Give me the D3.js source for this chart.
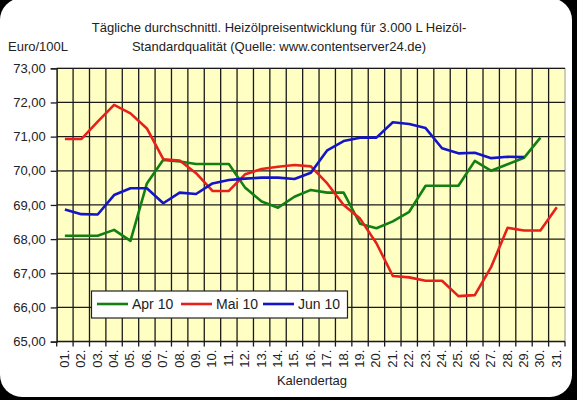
<!DOCTYPE html>
<html>
<head>
<meta charset="utf-8">
<script src="https://cdn.jsdelivr.net/npm/d3@7"></script>
<style>
  body { margin: 0; background: #000; }
  svg { display: block; font-family: "Liberation Sans", Arial, sans-serif; }
</style>
</head>
<body>
<svg id="chart" width="577" height="400"></svg>
<script>
const days = d3.range(1, 32).map(d => (d < 10 ? "0" + d : "" + d) + ".");
const yTicks = [65, 66, 67, 68, 69, 70, 71, 72, 73];

const apr10 = [68.1, 68.1, 68.1, 68.27, 67.95, 69.63, 70.32, 70.27, 70.2, 70.2,
  70.2, 69.5, 69.1, 68.92, 69.24, 69.44, 69.36, 69.36, 68.45, 68.32,
  68.52, 68.8, 69.56, 69.56, 69.56, 70.29, 70.0, 70.19, 70.38, 70.97];
const mai10 = [70.93, 70.93, 71.44, 71.93, 71.68, 71.24, 70.34, 70.3, 69.93, 69.41,
  69.41, 69.9, 70.05, 70.12, 70.17, 70.13, 69.63, 69.0, 68.6, 67.88,
  66.92, 66.88, 66.78, 66.78, 66.33, 66.36, 67.19, 68.33, 68.25, 68.25, 68.93];
const jun10 = [68.87, 68.73, 68.72, 69.29, 69.49, 69.49, 69.05, 69.36, 69.32, 69.63,
  69.73, 69.77, 69.8, 69.8, 69.76, 69.94, 70.6, 70.87, 70.97, 70.97,
  71.42, 71.37, 71.25, 70.66, 70.51, 70.53, 70.37, 70.41, 70.4];

const seriesNames = ["Apr 10", "Mai 10", "Jun 10"];
const seriesColors = ["#118011", "#e8201a", "#1515c8"];
const series = [apr10, mai10, jun10];

const svg = d3.select("#chart");

// card with rounded corners on black
svg.append("rect").attr("width", 577).attr("height", 400).attr("fill", "#000");
svg.append("rect")
  .attr("x", 0).attr("y", -2).attr("width", 572).attr("height", 399)
  .attr("rx", 22).attr("fill", "#fff");

const plotLeft = 56.7, plotRight = 565, plotTop = 68.3, plotBottom = 341.6;

const x = d3.scaleBand().domain(days).range([plotLeft, plotRight]).padding(0);
const y = d3.scaleLinear().domain([65, 73]).range([plotBottom, plotTop]);

// plot area
svg.append("rect")
  .attr("x", plotLeft).attr("y", plotTop)
  .attr("width", plotRight - plotLeft).attr("height", plotBottom - plotTop)
  .attr("fill", "#ffffc4")
  .attr("stroke", "#9a9a9a").attr("stroke-width", 1);

// vertical grid at category boundaries
svg.append("g")
  .selectAll("line")
  .data(days.slice(1))
  .enter()
  .append("line")
  .attr("x1", d => x(d)).attr("x2", d => x(d))
  .attr("y1", plotTop).attr("y2", plotBottom)
  .attr("stroke", "#1a1a1a").attr("stroke-width", 1.3);

// horizontal grid
svg.append("g")
  .selectAll("line")
  .data(yTicks.slice(1))
  .enter()
  .append("line")
  .attr("x1", plotLeft).attr("x2", plotRight)
  .attr("y1", d => y(d)).attr("y2", d => y(d))
  .attr("stroke", "#1a1a1a").attr("stroke-width", 1.3);

// y axis
const yAxis = svg.append("g")
  .attr("transform", `translate(${plotLeft},0)`)
  .call(d3.axisLeft(y).tickValues(yTicks).tickSize(6).tickPadding(5)
    .tickFormat(d => d3.format(".2f")(d).replace(".", ",")));
yAxis.select(".domain").attr("stroke", "#1a1a1a").attr("stroke-width", 1.3);
yAxis.selectAll(".tick line").attr("stroke", "#1a1a1a").attr("stroke-width", 1.3);
yAxis.selectAll("text").attr("font-size", 13).attr("fill", "#222")
  .style("font-family", "Liberation Sans, Arial, sans-serif");

// x axis: ticks between categories
const xAxisG = svg.append("g");
xAxisG.append("line")
  .attr("x1", plotLeft).attr("x2", plotRight).attr("y1", plotBottom).attr("y2", plotBottom)
  .attr("stroke", "#1a1a1a").attr("stroke-width", 1.5);
xAxisG.selectAll(".tk")
  .data(days.concat(["end"]))
  .enter()
  .append("line")
  .attr("x1", d => d === "end" ? plotRight : x(d))
  .attr("x2", d => d === "end" ? plotRight : x(d))
  .attr("y1", plotBottom).attr("y2", plotBottom + 5)
  .attr("stroke", "#1a1a1a").attr("stroke-width", 1.3);
xAxisG.selectAll("text")
  .data(days)
  .enter()
  .append("text")
  .attr("transform", d => `translate(${x(d) + x.bandwidth() / 2 + 4},${plotBottom + 8}) rotate(-90)`)
  .attr("text-anchor", "end")
  .attr("font-size", 13)
  .attr("fill", "#222")
  .text(d => d);

// lines
const line = d3.line()
  .x((d, i) => x(days[i]) + x.bandwidth() / 2)
  .y(d => y(d));

svg.append("g")
  .selectAll("path")
  .data(series)
  .enter()
  .append("path")
  .attr("d", d => line(d))
  .attr("fill", "none")
  .attr("stroke", (d, i) => seriesColors[i])
  .attr("stroke-width", 2.6)
  .attr("stroke-linejoin", "round");

// legend
const legend = svg.append("g");
legend.append("rect")
  .attr("x", 91.5).attr("y", 291).attr("width", 256).attr("height", 27)
  .attr("fill", "#fff").attr("stroke", "#222").attr("stroke-width", 1.2);
const legendX = [97, 181, 263];
seriesNames.forEach((name, i) => {
  legend.append("line")
    .attr("x1", legendX[i]).attr("x2", legendX[i] + 31)
    .attr("y1", 304).attr("y2", 304)
    .attr("stroke", seriesColors[i]).attr("stroke-width", 2.6);
  legend.append("text")
    .attr("x", legendX[i] + 35).attr("y", 309)
    .attr("font-size", 14).attr("fill", "#222")
    .text(name);
});

// titles
const title = svg.append("text")
  .attr("x", 279).attr("text-anchor", "middle")
  .attr("font-size", 13).attr("fill", "#222");
title.append("tspan").attr("x", 279).attr("y", 32)
  .text("Tägliche durchschnittl. Heizölpreisentwicklung für 3.000 L Heizöl-");
title.append("tspan").attr("x", 279).attr("y", 51)
  .text("Standardqualität (Quelle: www.contentserver24.de)");

svg.append("text")
  .attr("x", 8).attr("y", 51)
  .attr("font-size", 13).attr("fill", "#222")
  .text("Euro/100L");

svg.append("text")
  .attr("x", 312).attr("y", 385).attr("text-anchor", "middle")
  .attr("font-size", 13).attr("fill", "#222")
  .text("Kalendertag");
</script>
</body>
</html>
